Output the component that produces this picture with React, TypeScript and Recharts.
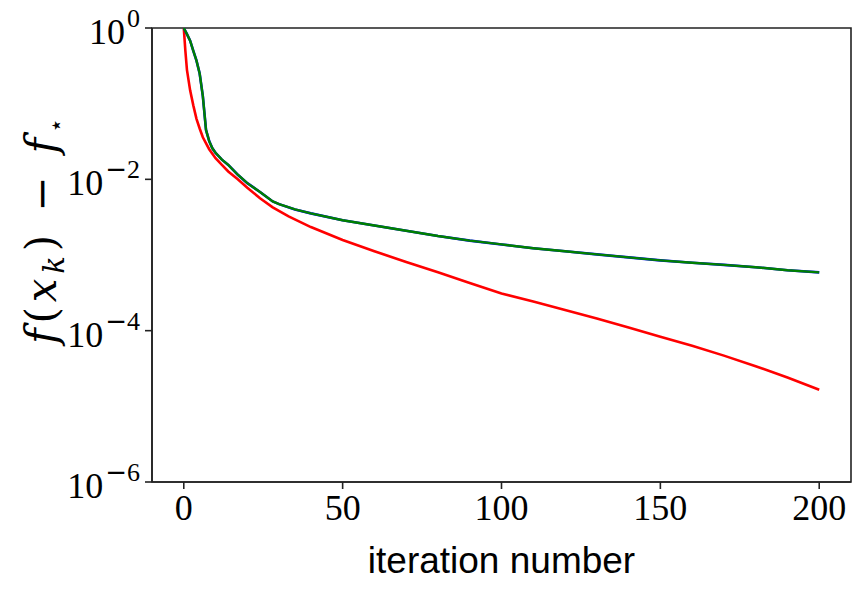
import React from 'react';
import { LineChart, Line, XAxis, YAxis, ReferenceArea, Label } from 'recharts';

// iteration numbers and objective gaps
const RED_ITER = [0, 0.5, 1, 2, 3, 4, 5, 6, 8, 10, 12, 14, 17, 20, 24, 28, 33, 40, 50, 60, 70, 80, 90, 100, 110, 120, 130, 140, 150, 160, 170, 180, 190, 200];
const RED_GAP = [1, 0.5, 0.28, 0.15, 0.095, 0.063, 0.047, 0.036, 0.025, 0.019, 0.0155, 0.0127, 0.01, 0.00776, 0.00562, 0.00427, 0.00324, 0.00234, 0.00158, 0.00112, 0.00081, 0.00059, 0.000427, 0.000309, 0.000243, 0.000188, 0.000145, 0.00011, 0.0000832, 0.0000631, 0.0000468, 0.0000339, 0.000024, 0.0000166];

const GREEN_ITER = [0, 1, 2, 3, 4, 5, 6, 7, 8, 9, 10, 12, 14, 17, 20, 24, 28, 30, 35, 40, 50, 60, 70, 80, 90, 100, 110, 120, 130, 140, 150, 160, 170, 180, 190, 200];
const GREEN_GAP = [1, 0.83, 0.68, 0.5, 0.37, 0.25, 0.126, 0.045, 0.032, 0.0257, 0.0224, 0.0182, 0.0155, 0.0115, 0.0089, 0.0068, 0.0051, 0.0047, 0.004, 0.00355, 0.00288, 0.00245, 0.00209, 0.00178, 0.00155, 0.00138, 0.00123, 0.00112, 0.00102, 0.00093, 0.00085, 0.00079, 0.00074, 0.00069, 0.00063, 0.00059];

const X_TICKS = [0, 50, 100, 150, 200];
const Y_TICKS = [1e-6, 1e-4, 1e-2, 1];
const Y_TICK_EXPONENTS = ['−6', '−4', '−2', '0'];

const redData = RED_ITER.map((x, i) => ({ x, y: RED_GAP[i] }));
const greenData = GREEN_ITER.map((x, i) => ({ x, y: GREEN_GAP[i] }));

const SERIF = '"Liberation Serif", "DejaVu Serif", serif';
const SANS = '"Liberation Sans", "DejaVu Sans", sans-serif';

const XTick = (props: any) => {
  const { x, y, payload } = props;
  return (
    <text x={x} y={y + 31} textAnchor="middle" fontFamily={SERIF} fontSize={36} fill="#000">
      {payload.value}
    </text>
  );
};

const YTick = (props: any) => {
  const { x, y, payload } = props;
  const idx = Y_TICKS.indexOf(payload.value);
  const exp = idx >= 0 ? Y_TICK_EXPONENTS[idx] : '';
  const hasMinus = exp.startsWith('−');
  const digits = hasMinus ? exp.slice(1) : exp;
  return (
    <text x={x - 5} y={y + 16} textAnchor="end" fontFamily={SERIF} fontSize={36} fill="#000">
      <tspan>10</tspan>
      {hasMinus ? (
        <tspan dx={2} dy={-17} fontSize={26} fontFamily='"DejaVu Sans", sans-serif'>−</tspan>
      ) : null}
      {hasMinus ? (
        <tspan fontSize={26}>{digits}</tspan>
      ) : (
        <tspan dx={2} dy={-17} fontSize={26}>{digits}</tspan>
      )}
    </text>
  );
};

const YLabel = (props: any) => {
  const vb = props.viewBox || { x: 0, y: 28, width: 152, height: 454 };
  const cx = vb.x + 56;
  const cy = 231;
  return (
    <text
      x={cx}
      y={cy}
      transform={`rotate(-90, ${cx}, ${cy})`}
      textAnchor="middle"
      fontFamily='"DejaVu Serif", serif'
      fontSize={42}
      fill="#000"
      textLength={226}
      lengthAdjust="spacing"
    >
      <tspan fontStyle="italic">f</tspan>
      <tspan>(</tspan>
      <tspan fontStyle="italic">x</tspan>
      <tspan dy={8} fontSize={29} fontStyle="italic">k</tspan>
      <tspan dy={-8}>) − </tspan>
      <tspan fontStyle="italic">f</tspan>
      <tspan dy={8} fontSize={24} fontFamily='"DejaVu Sans", sans-serif'>⋆</tspan>
    </text>
  );
};

const XLabel = (props: any) => {
  const vb = props.viewBox || { x: 152, y: 482, width: 699, height: 112 };
  return (
    <text x={vb.x + vb.width / 2} y={573} textAnchor="middle" fontFamily={SANS} fontSize={37} fill="#000">
      iteration number
    </text>
  );
};

export default function App() {
  return (
    <div style={{ position: 'absolute', left: 0, top: 0, width: 866, height: 594, background: '#fff' }}>
      <LineChart width={866} height={594} margin={{ top: 28, right: 15, bottom: 0, left: 0 }}>
        <XAxis
          type="number"
          dataKey="x"
          domain={[-10, 210]}
          ticks={X_TICKS}
          allowDataOverflow
          height={112}
          tickSize={7}
          tickMargin={0}
          tick={<XTick />}
          axisLine={{ stroke: '#222', strokeWidth: 1.6 }}
          tickLine={{ stroke: '#222', strokeWidth: 1.6 }}
        >
          <Label content={<XLabel />} />
        </XAxis>
        <YAxis
          type="number"
          scale="log"
          domain={[1e-6, 1]}
          ticks={Y_TICKS}
          allowDataOverflow
          width={152}
          tickSize={7}
          tickMargin={0}
          tick={<YTick />}
          axisLine={{ stroke: '#222', strokeWidth: 1.6 }}
          tickLine={{ stroke: '#222', strokeWidth: 1.6 }}
        >
          <Label content={<YLabel />} />
        </YAxis>
        <ReferenceArea
          x1={-10}
          x2={210}
          y1={1e-6}
          y2={1}
          fill="none"
          fillOpacity={0}
          stroke="#222"
          strokeWidth={1.6}
          ifOverflow="visible"
        />
        <Line data={redData} dataKey="y" type="linear" stroke="#ff0000" strokeWidth={2.6} dot={false} isAnimationActive={false} />
        <Line data={greenData} dataKey="y" type="linear" stroke="#0000ff" strokeWidth={2.6} dot={false} isAnimationActive={false} />
        <Line data={greenData} dataKey="y" type="linear" stroke="#008000" strokeWidth={2.4} dot={false} isAnimationActive={false} />
      </LineChart>
    </div>
  );
}
